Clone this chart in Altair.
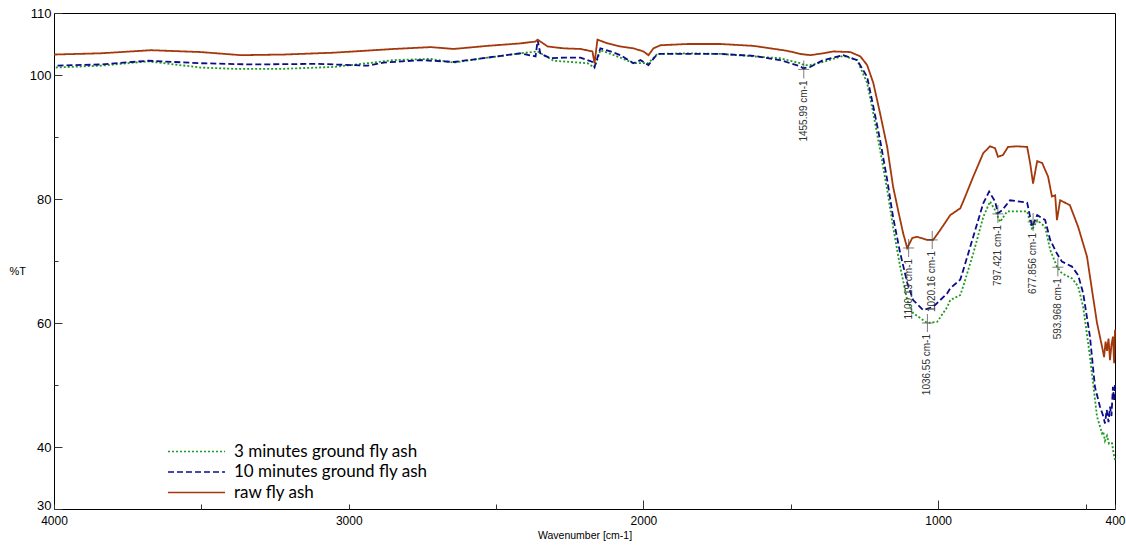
import altair as alt
import pandas as pd

# ---------------- data ----------------
raw_wn = [4000, 3841, 3671, 3502, 3366, 3220, 3051, 2915, 2847, 2722, 2644, 2529, 2417, 2366, 2359,
          2325, 2271, 2214, 2173, 2166, 2156, 2122, 2078, 2034, 2000, 1983, 1966, 1942, 1851, 1739,
          1627, 1512, 1468, 1434, 1390, 1356, 1298, 1264, 1241, 1220, 1197, 1173, 1153, 1136, 1119,
          1105, 1088, 1071, 1037, 1017, 993, 959, 925, 915, 881, 847, 824, 807, 797, 780, 763, 732,
          698, 688, 678, 664, 647, 627, 614, 603, 597, 586, 553, 525, 495, 478, 461, 444, 437, 432,
          427, 422, 417, 412, 407, 403, 400]
raw_t = [103.3, 103.5, 104.0, 103.7, 103.2, 103.3, 103.6, 104.0, 104.2, 104.5, 104.2, 104.7, 105.1, 105.4, 105.7,
         104.6, 104.3, 104.2, 103.8, 101.9, 105.7, 105.1, 104.6, 104.3, 103.8, 103.2, 104.3, 104.8, 105.0, 105.0,
         104.7, 103.9, 103.4, 103.2, 103.5, 103.8, 103.7, 103.0, 101.6, 98.7, 93.8, 88.4, 82.0, 78.2, 74.5,
         72.1, 73.7, 73.9, 73.4, 73.4, 75.0, 77.4, 78.5, 79.6, 83.6, 87.4, 88.5, 88.2, 86.8, 87.1, 88.4, 88.5,
         88.4, 85.8, 82.5, 86.1, 85.8, 83.6, 80.4, 80.6, 76.6, 79.8, 79.0, 75.5, 70.7, 65.3, 60.0, 56.2, 54.5, 57.0,
         55.5, 57.5, 54.0, 56.5, 57.8, 53.5, 58.9]

m10_wn = [4000, 3841, 3681, 3502, 3332, 3105, 2936, 2881, 2756, 2644, 2529, 2417, 2366, 2359, 2350,
          2339, 2315, 2271, 2214, 2173, 2166, 2146, 2112, 2078, 2034, 2010, 1983, 1953, 1851, 1739,
          1627, 1536, 1468, 1458, 1434, 1390, 1322, 1275, 1241, 1220, 1197, 1173, 1153, 1129, 1105,
          1085, 1051, 1017, 969, 959, 925, 915, 881, 847, 827, 807, 797, 783, 756, 698, 681, 664, 637,
          620, 597, 580, 546, 525, 508, 485, 468, 451, 440, 434, 428, 422, 417, 412, 407, 403, 400]
m10_t = [101.5, 101.7, 102.3, 101.9, 101.7, 101.8, 101.5, 102.0, 102.4, 102.1, 102.8, 103.5, 103.0, 105.6, 103.5,
         103.2, 102.7, 102.8, 102.8, 102.1, 101.3, 104.3, 103.8, 103.2, 101.9, 102.4, 101.6, 103.4, 103.4, 103.4,
         103.1, 102.4, 101.4, 101.1, 101.3, 102.4, 103.2, 102.4, 99.7, 94.9, 89.5, 83.1, 77.1, 71.3, 66.5,
         63.7, 62.1, 62.6, 64.8, 65.6, 67.0, 68.5, 73.9, 79.3, 81.2, 79.6, 77.7, 78.2, 79.8, 79.4, 75.5, 77.4, 76.6,
         73.4, 71.2, 69.9, 69.1, 67.7, 64.8, 57.8, 49.7, 46.5, 45.0, 43.8, 46.0, 44.0, 46.5, 45.0, 49.7, 47.5, 50.0]

m3_wn = [4000, 3841, 3681, 3502, 3390, 3220, 3051, 2936, 2847, 2722, 2644, 2529, 2417, 2359, 2305,
         2247, 2190, 2166, 2146, 2078, 2034, 1983, 1953, 1851, 1739, 1627, 1536, 1468, 1456, 1434,
         1390, 1322, 1275, 1241, 1220, 1197, 1173, 1153, 1129, 1105, 1085, 1037, 1003, 969, 959, 925,
         915, 881, 847, 824, 807, 790, 766, 698, 681, 664, 637, 620, 597, 580, 546, 525, 508, 485, 461,
         444, 440, 434, 427, 420, 410, 405, 400]
m3_t = [101.2, 101.5, 102.2, 101.2, 101.0, 101.0, 101.3, 101.9, 102.4, 102.6, 102.0, 102.8, 103.5, 103.8, 102.3,
        102.1, 101.9, 101.2, 104.0, 102.8, 101.9, 101.9, 103.4, 103.5, 103.4, 103.0, 102.7, 101.9, 101.6, 101.6,
        102.1, 103.1, 102.4, 98.7, 93.8, 87.9, 81.5, 75.5, 69.1, 63.7, 61.6, 60.0, 60.2, 62.6, 63.7, 64.5,
        65.9, 71.2, 77.1, 79.6, 78.2, 76.3, 78.0, 78.0, 75.0, 76.6, 75.5, 71.8, 69.1, 68.0, 67.2, 65.9, 62.6, 54.6, 44.9,
        42.2, 42.5, 41.0, 41.8, 40.5, 40.6, 39.0, 37.9]

series_names = ["3 minutes ground fly ash", "10 minutes ground fly ash", "raw fly ash"]

ann_wn = [1455.99, 1100.19, 1020.16, 1036.55, 797.421, 677.856, 593.968]
ann_t = [100.9, 72.1, 73.4, 60.0, 77.6, 76.3, 69.0]
ann_label = ["1455.99 cm-1", "1100.19 cm-1", "1020.16 cm-1", "1036.55 cm-1",
             "797.421 cm-1", "677.856 cm-1", "593.968 cm-1"]

x_ticks = [4000, 3500, 3000, 2500, 2000, 1500, 1000, 500, 400]
x_minor = [4000, 3500, 3000, 2500, 1500, 500, 400]
x_unlabeled = [3500, 2500, 1500, 500]
y_ticks = [30, 40, 50, 60, 70, 80, 90, 100, 110]
y_unlabeled = [50, 70, 90]

# ---------------- styles ----------------
colors = ["#1f9a1f", "#0c0c8a", "#a3390b"]
dashes = [[2, 2], [6, 3], [1, 0]]
FONT = "Liberation Sans"

# ---------------- tables ----------------
frames = []
for name, wn, t in [(series_names[0], m3_wn, m3_t),
                    (series_names[1], m10_wn, m10_t),
                    (series_names[2], raw_wn, raw_t)]:
    frames.append(pd.DataFrame({"wn": wn, "t": t, "series": name}))
df = pd.concat(frames, ignore_index=True)
ann = pd.DataFrame({"wn": ann_wn, "t": ann_t, "label": ann_label})

xscale = alt.Scale(domain=[400, 4000], reverse=True, nice=False, zero=False)
yscale = alt.Scale(domain=[30, 110], nice=False, zero=False)

x_lab_expr = "indexof(%s, datum.value) >= 0 ? '' : datum.label" % str(x_unlabeled)
y_lab_expr = "indexof(%s, datum.value) >= 0 ? '' : datum.label" % str(y_unlabeled)

x_axis = alt.Axis(
    values=x_ticks, labelExpr=x_lab_expr, format="d", grid=False, domain=False,
    tickSize=alt.ExprRef(expr="-9"), tickColor="#333", tickWidth=1,
    tickDash={"condition": {"test": "indexof(%s, datum.value) >= 0" % str(x_minor), "value": [5, 30]},
              "value": [30, 0]},
    labelPadding=15, labelFont=FONT, labelFontSize=12, labelColor="black",
    labelOverlap=False, labelFlush=False,
    title="Wavenumber [cm-1]", titleFont=FONT, titleFontSize=10.5, titleFontWeight="normal",
    titleColor="black", titlePadding=4,
)
y_axis = alt.Axis(
    values=y_ticks, labelExpr=y_lab_expr, grid=False, domain=False,
    tickSize=alt.ExprRef(expr="-8"), tickColor="#333", tickWidth=1,
    tickDash={"condition": {"test": "indexof(%s, datum.value) >= 0" % str(y_unlabeled), "value": [4, 30]},
              "value": [30, 0]},
    labelPadding=11, labelFont=FONT, labelFontSize=13, labelColor="black",
    labelBaseline={"condition": {"test": "datum.value == 30", "value": "alphabetic"}, "value": "middle"},
    labelOverlap=False, labelFlush=False,
    title="%T", titleAngle=0, titleAlign="left", titleBaseline="middle",
    titleX=-45, titleY=258, titleFont=FONT, titleFontSize=11, titleFontWeight="normal",
    titleColor="black",
)

legend = alt.Legend(
    title=None, orient="none", legendX=134, legendY=430, padding=0,
    symbolType="M-5.7,0H5.7", symbolSize=100, symbolStrokeWidth=1.5,
    labelFont="Lato", labelFontSize=17, labelColor="black", labelOffset=29, labelLimit=0,
    rowPadding=2.5, fillColor="white",
)

lines = alt.Chart(df).mark_line(strokeWidth=1.8, interpolate="linear").encode(
    x=alt.X("wn:Q", scale=xscale, axis=x_axis),
    y=alt.Y("t:Q", scale=yscale, axis=y_axis),
    color=alt.Color("series:N", scale=alt.Scale(domain=series_names, range=colors), legend=legend),
    strokeDash=alt.StrokeDash("series:N", scale=alt.Scale(domain=series_names, range=dashes), legend=legend),
    order=alt.Order("wn:Q"),
)

hbar = alt.Chart(ann).mark_tick(orient="horizontal", size=11, thickness=1, color="#444").encode(
    x=alt.X("wn:Q", scale=xscale), y=alt.Y("t:Q", scale=yscale))
vbar = alt.Chart(ann).mark_tick(orient="vertical", size=18, thickness=1, color="#444").encode(
    x=alt.X("wn:Q", scale=xscale), y=alt.Y("t:Q", scale=yscale))
texts = alt.Chart(ann).mark_text(angle=270, align="right", baseline="middle", dx=-11,
                                 font=FONT, fontSize=10, color="#333").encode(
    x=alt.X("wn:Q", scale=xscale), y=alt.Y("t:Q", scale=yscale), text="label:N")

chart = alt.layer(lines, hbar, vbar, texts).properties(
    width=1061, height=496,
    autosize=alt.AutoSizeParams(type="none"),
    padding={"left": 54, "top": 13, "right": 11, "bottom": 39},
    background="white",
).configure_view(stroke="black", strokeWidth=1)

chart.save("out.html", embed_options={"renderer": "svg", "actions": False})
